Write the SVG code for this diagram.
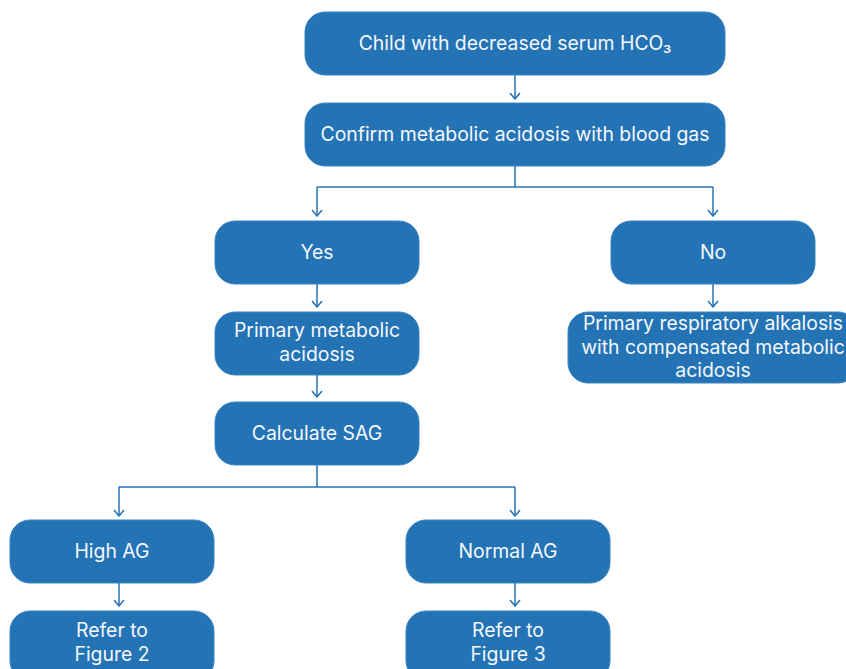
<svg xmlns="http://www.w3.org/2000/svg" width="846" height="669" viewBox="0 0 846 669">
<defs>
<marker id="ah" viewBox="0 0 10 12" refX="9" refY="6" markerWidth="10" markerHeight="12" markerUnits="userSpaceOnUse" orient="auto">
<path d="M3,1 L9,6 L3,11" fill="none" stroke="#2473b5" stroke-width="1.5"/>
</marker>
</defs>
<style>
.box{fill:#2473b5;stroke:#3a86c4;stroke-width:1}
.t{font-family:Inter,"Noto Sans","Liberation Sans",sans-serif;font-size:19.4px;fill:#f4f8fc;text-anchor:middle}
.c{fill:none;stroke:#2473b5;stroke-width:1.5}
.a{marker-end:url(#ah)}
</style>
<rect width="846" height="669" fill="#ffffff"/>
<g id="connectors">
<path class="c a" d="M515,75 V99"/>
<path class="c" d="M515,166 V187 M317,187 H713"/>
<path class="c a" d="M317,187 V216"/>
<path class="c a" d="M713,187 V216"/>
<path class="c a" d="M317,284 V307"/>
<path class="c a" d="M713,284 V307"/>
<path class="c a" d="M317,375 V397"/>
<path class="c" d="M317,465 V487 M119,487 H515"/>
<path class="c a" d="M119,487 V516"/>
<path class="c a" d="M515,487 V516"/>
<path class="c a" d="M119,583 V606"/>
<path class="c a" d="M515,583 V606"/>
</g>
<g id="n1"><rect class="box" x="305" y="12" width="420" height="63" rx="20"/><text class="t" x="515" y="50">Child with decreased serum HCO₃</text></g>
<g id="n2"><rect class="box" x="305" y="103" width="420" height="63" rx="20"/><text class="t" x="515" y="141">Confirm metabolic acidosis with blood gas</text></g>
<g id="yes"><rect class="box" x="215" y="221" width="204" height="63" rx="20"/><text class="t" x="317" y="259">Yes</text></g>
<g id="no"><rect class="box" x="611" y="221" width="204" height="63" rx="20"/><text class="t" x="713" y="259">No</text></g>
<g id="pma"><rect class="box" x="215" y="312" width="204" height="63" rx="20"/><text class="t" x="317" y="337">Primary metabolic</text><text class="t" x="317" y="361">acidosis</text></g>
<g id="pra"><rect class="box" x="568" y="312" width="290" height="71" rx="20"/><text class="t" x="713" y="330">Primary respiratory alkalosis</text><text class="t" x="713" y="354">with compensated metabolic</text><text class="t" x="713" y="377">acidosis</text></g>
<g id="sag"><rect class="box" x="215" y="402" width="204" height="63" rx="20"/><text class="t" x="317" y="440">Calculate SAG</text></g>
<g id="high"><rect class="box" x="10" y="520" width="204" height="63" rx="20"/><text class="t" x="112" y="558">High AG</text></g>
<g id="normal"><rect class="box" x="406" y="520" width="204" height="63" rx="20"/><text class="t" x="508" y="558">Normal AG</text></g>
<g id="fig2"><rect class="box" x="10" y="611" width="204" height="70" rx="20"/><text class="t" x="112" y="637">Refer to</text><text class="t" x="112" y="661">Figure 2</text></g>
<g id="fig3"><rect class="box" x="406" y="611" width="204" height="70" rx="20"/><text class="t" x="508" y="637">Refer to</text><text class="t" x="508" y="661">Figure 3</text></g>
</svg>
